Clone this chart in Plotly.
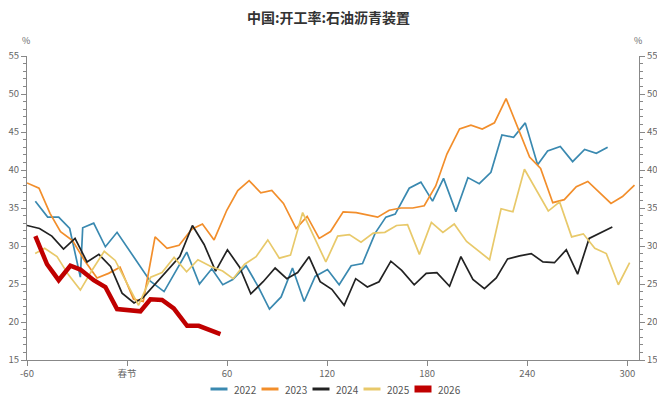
import plotly.graph_objects as go

# ---- data (day offset from Spring Festival, value %) ----
x2022 = [-55.0, -47.6, -41.0, -34.4, -28.0, -26.6, -20.0, -13.0, -6.0, 13.8, 22.2, 35.8, 43.4, 50.8, 57.4,
         63.4, 71.4, 78.8, 85.4, 92.4, 99.2, 106.2, 112.8, 120.2, 127.2, 134.4, 141.2, 148.8, 155.2, 160.8,
         169.2, 176.2, 183.2, 189.8, 197.2, 204.4, 211.2, 218.2, 224.8, 231.8, 238.8, 246.2, 252.2, 259.8,
         267.2, 274.4, 281.4, 288.2]
y2022 = [35.9, 33.8, 33.8, 32.3, 25.9, 32.4, 33.0, 29.9, 31.8, 25.4, 24.0, 29.2, 25.0, 27.0, 24.9,
         25.6, 27.4, 24.6, 21.7, 23.3, 27.1, 22.7, 26.0, 26.9, 24.9, 27.4, 27.7, 31.7, 33.8, 34.2,
         37.6, 38.4, 35.9, 38.9, 34.5, 39.0, 38.2, 39.7, 44.6, 44.3, 46.2, 40.7, 42.5, 43.1,
         41.1, 42.7, 42.2, 43.0]

x2023 = [-60.0, -52.8, -46.2, -39.9, -32.7, -25.5, -18.0, -11.1, -4.2, 3.9, 9.7, 16.8, 24.0, 31.2, 38.8,
         45.2, 52.2, 59.8, 66.4, 73.2, 80.2, 86.8, 93.8, 101.4, 108.0, 115.2, 122.0, 129.6, 137.4, 150.3,
         157.2, 164.2, 171.3, 178.2, 185.1, 191.8, 199.4, 206.2, 213.0, 220.3, 227.3, 241.4, 248.0, 255.3,
         262.2, 269.4, 276.3, 283.6, 290.2, 297.1, 304.3]
y2023 = [38.3, 37.6, 34.3, 31.9, 30.7, 28.1, 25.8, 26.4, 27.2, 23.0, 22.7, 31.2, 29.7, 30.1, 32.2,
         32.9, 30.8, 34.7, 37.3, 38.6, 37.0, 37.3, 35.6, 32.3, 33.9, 31.0, 31.9, 34.5, 34.4, 33.8,
         34.7, 35.0, 35.0, 35.3, 37.9, 42.1, 45.4, 45.9, 45.4, 46.2, 49.4, 41.7, 40.2, 35.7,
         36.1, 37.8, 38.5, 37.0, 35.6, 36.5, 38.0]

x2024 = [-60.0, -52.5, -45.1, -38.1, -31.2, -24.0, -16.9, -9.9, -3.0, 4.2, 9.6, 15.3, 22.8, 31.6, 39.2,
         46.2, 53.1, 60.2, 67.5, 74.2, 81.6, 88.8, 95.8, 102.3, 109.1, 115.8, 122.8, 130.2, 137.1, 144.1,
         151.1, 158.2, 164.7, 172.2, 179.4, 185.8, 193.4, 200.2, 207.4, 214.3, 221.4, 228.2, 235.4, 242.4,
         249.4, 256.3, 263.4, 270.2, 277.1, 284.0, 291.0]
y2024 = [32.7, 32.3, 31.3, 29.6, 31.0, 27.9, 28.9, 27.3, 23.8, 22.5, 23.2, 24.6, 26.4, 28.6, 32.7,
         30.2, 26.7, 29.5, 27.2, 23.7, 25.3, 27.1, 25.7, 26.5, 28.6, 25.3, 24.3, 22.2, 25.7, 24.6,
         25.3, 28.0, 26.8, 24.9, 26.4, 26.5, 24.7, 28.6, 25.6, 24.4, 25.8, 28.3, 28.7, 29.0,
         27.9, 27.8, 29.5, 26.3, 31.0, 31.7, 32.5]

x2025 = [-55.1, -49.4, -42.0, -35.1, -28.0, -21.0, -13.7, -7.1, -0.8, 6.9, 14.2, 21.0, 28.2, 35.7, 42.5,
         50.3, 57.3, 63.6, 70.5, 77.4, 84.4, 91.3, 98.0, 105.3, 119.2, 126.3, 133.3, 140.3, 147.6, 154.6,
         161.6, 168.2, 175.3, 182.5, 189.4, 196.2, 203.6, 210.8, 217.4, 224.3, 231.4, 238.3, 245.4, 252.6,
         259.4, 266.6, 273.6, 280.5, 287.4, 294.6, 301.4]
y2025 = [29.0, 29.7, 28.6, 26.2, 24.2, 26.8, 29.3, 28.1, 25.4, 22.2, 25.9, 26.5, 28.5, 26.6, 28.2,
         27.3, 26.7, 25.7, 27.6, 28.6, 30.8, 28.4, 28.8, 34.4, 27.9, 31.3, 31.5, 30.5, 31.7, 31.8,
         32.7, 32.8, 28.9, 33.1, 31.8, 32.9, 30.6, 29.4, 28.2, 34.9, 34.5, 40.1, 37.3, 34.6,
         35.8, 31.2, 31.6, 29.7, 29.0, 24.9, 27.8]

x2026 = [-55, -48, -41, -34, -28, -20, -13, -6, 8, 14, 21, 28, 36, 43, 56]
y2026 = [31.3, 27.6, 25.5, 27.4, 26.9, 25.5, 24.6, 21.7, 21.4, 23.0, 22.9, 21.8, 19.5, 19.5, 18.4]

tick_vals = [-60, 0, 60, 120, 180, 240, 300]
tick_text = ["-60", "春节", "60", "120", "180", "240", "300"]

series_names = ["2022", "2023", "2024", "2025", "2026"]
series_x = [x2022, x2023, x2024, x2025, x2026]
series_y = [y2022, y2023, y2024, y2025, y2026]
colors = ["#3A89B0", "#F28E2B", "#222222", "#E8C96A", "#C00000"]
widths = [1.7, 1.7, 1.7, 1.7, 4.5]

FONT = "Microsoft YaHei, Noto Sans CJK SC, sans-serif"
W, H = 657, 396
ML, MR, MT, MB = 27, 18, 56, 36
PW, PH = W - ML - MR, H - MT - MB


def px_to_paper(px, py):
    return (px - ML) / PW, (H - MB - py) / PH


fig = go.Figure()
for name, xs, ys, col, w in zip(series_names, series_x, series_y, colors, widths):
    fig.add_trace(go.Scatter(x=xs, y=ys, name=name, mode="lines",
                             line=dict(color=col, width=w), showlegend=False))
# helper trace so the right-hand axis is drawn
fig.add_trace(go.Scatter(x=[x2022[0]], y=[y2022[0]], yaxis="y2", mode="lines",
                         showlegend=False, hoverinfo="skip", line=dict(width=0)))

axis_common = dict(
    range=[15, 55], tickvals=list(range(15, 56, 5)), showgrid=False, zeroline=False,
    showline=True, linecolor="#888", linewidth=1, ticks="outside", ticklen=5,
    tickcolor="#888", tickfont=dict(size=9.5, color="#666", family=FONT),
    minor=dict(ticks="outside", ticklen=3, tickcolor="#888", dtick=1),
    automargin=False,
)

fig.update_layout(
    width=W, height=H,
    margin=dict(l=ML, r=MR, t=MT, b=MB, autoexpand=False),
    paper_bgcolor="white", plot_bgcolor="white",
    title=dict(text="<b>中国:开工率:石油沥青装置</b>", x=0.5, xanchor="center",
               y=1 - 18 / H, yanchor="middle",
               font=dict(size=14, color="#333", family=FONT)),
    xaxis=dict(range=[-60, 307], tickvals=tick_vals, ticktext=tick_text, showgrid=False,
               zeroline=False, showline=True, linecolor="#888", linewidth=1, ticks="outside",
               ticklen=5, tickcolor="#888", tickfont=dict(size=9.5, color="#666", family=FONT),
               automargin=False),
    yaxis=dict(**axis_common, side="left"),
    yaxis2=dict(**axis_common, side="right", overlaying="y"),
    showlegend=False,
)

# "%" unit labels
for px in (26, 638):
    ax, ay = px_to_paper(px, 40)
    fig.add_annotation(text="%", xref="paper", yref="paper", x=ax, y=ay, xanchor="center",
                       yanchor="middle", showarrow=False,
                       font=dict(size=9, color="#666", family=FONT))

# custom legend (short line symbols like the original)
leg_y = 389
leg_start = 210.5
leg_step = 51
sym_len = 17
for i, (name, col, w) in enumerate(zip(series_names, colors, widths)):
    x0 = leg_start + i * leg_step
    p0x, p0y = px_to_paper(x0, leg_y)
    p1x, _ = px_to_paper(x0 + sym_len, leg_y)
    fig.add_shape(type="line", xref="paper", yref="paper", x0=p0x, x1=p1x, y0=p0y, y1=p0y,
                  line=dict(color=col, width=3 if w < 3 else 7))
    tx, ty = px_to_paper(x0 + sym_len + 4, leg_y)
    fig.add_annotation(text=name, xref="paper", yref="paper", x=tx, y=ty, xanchor="left",
                       yanchor="middle", showarrow=False,
                       font=dict(size=10, color="#555", family=FONT))

fig.write_html("out.html", config={"displayModeBar": False},
               post_script="document.body.style.margin='0';document.body.style.overflow='hidden';")
